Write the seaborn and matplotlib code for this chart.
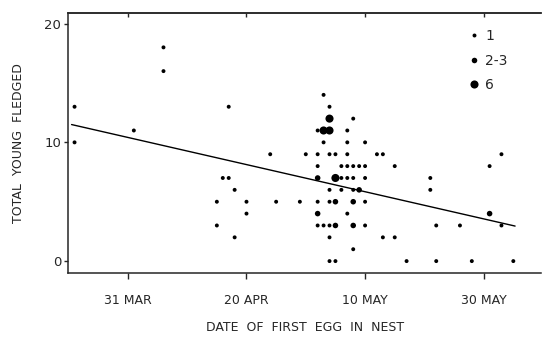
import pandas as pd
import matplotlib.pyplot as plt
import seaborn as sns

# days after 31 March, young fledged, number of nests at that point
day = [-9, -9, 1, 6, 6, 17, 16, 17, 18, 15, 20, 20, 15, 18, 24, 30, 25, 29,
       33, 34, 34, 38, 32, 33, 34, 37, 33, 37, 40,
       32, 34, 35, 37, 42, 43, 63,
       32, 36, 37, 38, 39, 40, 45, 61,
       32, 35, 36, 37, 38, 40, 51,
       34, 36, 38, 39, 51,
       32, 34, 35, 38, 40,
       32, 37, 61,
       32, 33, 34, 35, 38, 40, 52, 56, 63,
       34, 43, 45, 38,
       34, 35, 47, 52, 58, 65]
young = [13, 10, 11, 18, 16, 13, 7, 7, 6, 5, 5, 4, 3, 2, 9, 9, 5, 5,
         14, 13, 12, 12, 11, 11, 11, 11, 10, 10, 10,
         9, 9, 9, 9, 9, 9, 9,
         8, 8, 8, 8, 8, 8, 8, 8,
         7, 7, 7, 7, 7, 7, 7,
         6, 6, 6, 6, 6,
         5, 5, 5, 5, 5,
         4, 4, 4,
         3, 3, 3, 3, 3, 3, 3, 3, 3,
         2, 2, 2, 1,
         0, 0, 0, 0, 0, 0]
nests = ['1'] * 18 + \
        ['1', '1', '6', '1', '1', '6', '6', '1', '1', '1', '1'] + \
        ['1'] * 7 + \
        ['1'] * 8 + \
        ['2-3', '6', '1', '1', '1', '1', '1'] + \
        ['1', '1', '1', '2-3', '1'] + \
        ['1', '1', '2-3', '2-3', '1'] + \
        ['2-3', '1', '2-3'] + \
        ['1', '1', '1', '2-3', '2-3', '1', '1', '1', '1'] + \
        ['1'] * 4 + \
        ['1'] * 6

# regression line end points
line_day = [-9.5, 65.3]
line_young = [11.5, 2.95]

ticks_day = [0, 20, 40, 60]
tick_labels = ['31 MAR', '20 APR', '10 MAY', '30 MAY']

df = pd.DataFrame({'day': day, 'young': young, 'nests': nests})

sns.set_style('ticks')
plt.rcParams['font.family'] = ['DejaVu Sans']

fig = plt.figure(figsize=(5.42, 3.37), dpi=100)
ax = fig.add_axes([0.1255, 0.19, 0.873, 0.7716])

sns.scatterplot(data=df, x='day', y='young', size='nests',
                size_order=['1', '2-3', '6'],
                sizes={'1': 8, '2-3': 16, '6': 34},
                color='black', edgecolor='none', legend='full', ax=ax)
sns.lineplot(x=line_day, y=line_young, color='black', linewidth=1.0, ax=ax)

handles, labels = ax.get_legend_handles_labels()
ax.legend(handles[-3:], ['1', '2-3', '6'], frameon=False, loc='upper right',
          bbox_to_anchor=(0.955, 0.985), fontsize=10, handletextpad=0.2,
          handlelength=1.2, labelspacing=0.75, markerscale=1.0)

ax.set_xlim(-10.1, 69.7)
ax.set_ylim(-1.0, 20.9)
ax.set_xticks(ticks_day)
ax.set_xticklabels(tick_labels)
ax.set_yticks([0, 10, 20])

ax.tick_params(axis='x', direction='out', length=4, width=1.0, pad=11, labelsize=9)
ax.tick_params(axis='y', direction='out', length=3, width=1.0, pad=2, labelsize=9.5)

# small inward ticks along the top frame
top = ax.secondary_xaxis('top')
top.set_xticks(ticks_day)
top.tick_params(direction='in', length=3, width=1.0, labeltop=False)
top.spines['top'].set_linewidth(1.1)

for side in ['left', 'bottom', 'top']:
    ax.spines[side].set_linewidth(1.1)
ax.spines['right'].set_visible(False)

ax.set_xlabel('DATE  OF  FIRST  EGG  IN  NEST', fontsize=9, labelpad=10)
ax.set_ylabel('TOTAL  YOUNG  FLEDGED', fontsize=9, labelpad=14)

fig.savefig('out.png', dpi=100)
